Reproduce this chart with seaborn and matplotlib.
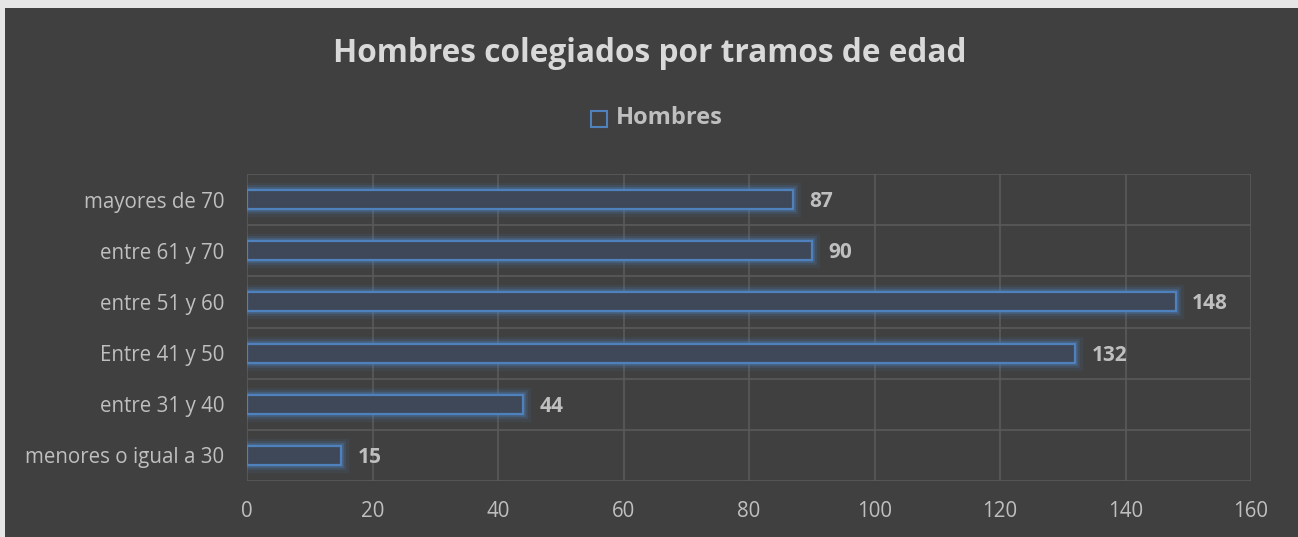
import matplotlib
matplotlib.use("Agg")
import matplotlib.pyplot as plt
import matplotlib.patheffects as pe
from matplotlib.patches import Rectangle
import seaborn as sns
import pandas as pd

categories = ["mayores de 70", "entre 61 y 70", "entre 51 y 60",
              "Entre 41 y 50", "entre 31 y 40", "menores o igual a 30"]
values = [87, 90, 148, 132, 44, 15]
series_name = "Hombres"
title = "Hombres colegiados por tramos de edad"
xticks = [0, 20, 40, 60, 80, 100, 120, 140, 160]

df = pd.DataFrame({"cat": categories, "val": values})

sns.set_theme(style="dark")
plt.rcParams['font.family'] = ['Open Sans', 'DejaVu Sans']

BG = "#404040"
EDGE = "#4f81bd"
TXT = "#bfbfbf"
GRID = "#5a5a5a"

fig = plt.figure(figsize=(12.98, 5.37), dpi=100)
fig.patch.set_facecolor("#e6e6e6")

bg_ax = fig.add_axes([5 / 1298, 0, 1, (537 - 8) / 537], zorder=0)
bg_ax.set_facecolor(BG)
bg_ax.set_axis_off()
bg_ax.add_patch(Rectangle((0, 0), 1, 1, transform=bg_ax.transAxes,
                          facecolor=BG, edgecolor="none"))

ax = fig.add_axes([247 / 1298, 56 / 537, (1251 - 247) / 1298, (481 - 174) / 537], zorder=2)
ax.set_facecolor(BG)

sns.barplot(data=df, y="cat", x="val", order=categories, orient="h", ax=ax,
            width=0.37, facecolor="#3e4859", edgecolor=EDGE, linewidth=1.6, zorder=3)

for p in ax.patches:
    p.set_path_effects([
        pe.Stroke(linewidth=11, foreground=EDGE, alpha=0.10),
        pe.Stroke(linewidth=7, foreground=EDGE, alpha=0.18),
        pe.Stroke(linewidth=4, foreground=EDGE, alpha=0.35),
        pe.Normal(),
    ])

for i, v in enumerate(values):
    ax.text(v + 2.6, i + 0.04, str(v), va="center", ha="left", fontsize=15,
            fontweight="bold", color=TXT, zorder=4)

ax.set_xlim(0, 160)
ax.set_ylim(len(categories) - 0.5, -0.5)
ax.set_xticks(xticks)
ax.set_xticklabels([str(t) for t in xticks])
ax.set_xlabel("")
ax.set_ylabel("")

for x in xticks:
    ax.axvline(x, color=GRID, lw=1.2, zorder=1)
for k in range(len(categories) + 1):
    ax.axhline(k - 0.5, color=GRID, lw=1.2, zorder=1)

for s in ax.spines.values():
    s.set_visible(False)

ax.tick_params(axis="x", colors=TXT, labelsize=14.8, length=0, pad=14.5)
ax.tick_params(axis="y", colors=TXT, labelsize=14.8, length=0, pad=16.5)
for lbl in ax.get_xticklabels() + ax.get_yticklabels():
    lbl.set_color(TXT)

fig.text(650 / 1298, 1 - 53 / 537, title, ha="center", va="center",
         fontsize=22.8, fontweight="bold", color="#d9d9d9", zorder=5)

# legend
fig.patches.append(Rectangle((591 / 1298, 1 - 127 / 537), 16 / 1298, 16 / 537,
                             transform=fig.transFigure, facecolor=BG,
                             edgecolor=EDGE, linewidth=1.5, zorder=5))
fig.text(616 / 1298, 1 - 118 / 537, series_name, ha="left", va="center",
         fontsize=17, fontweight="bold", color=TXT, zorder=5)

fig.savefig("out.png", dpi=100, facecolor=fig.get_facecolor())
